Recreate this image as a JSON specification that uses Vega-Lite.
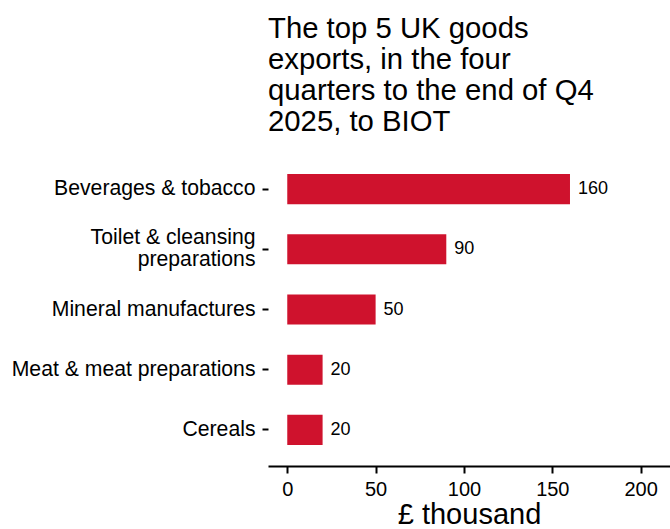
{
  "$schema": "https://vega.github.io/schema/vega-lite/v6.json",
  "autosize": {"type": "none"},
  "width": 402,
  "height": 313,
  "padding": {"left": 268, "top": 153, "right": 0, "bottom": 63},
  "background": "white",
  "config": {"view": {"stroke": null}, "font": "Liberation Sans"},
  "title": {
    "text": ["The top 5 UK goods", "exports, in the four", "quarters to the end of Q4", "2025, to BIOT"],
    "anchor": "start",
    "frame": "group",
    "fontSize": 29.3,
    "fontWeight": "normal",
    "lineHeight": 31,
    "color": "black",
    "font": "Liberation Sans",
    "offset": 16
  },
  "data": {
    "values": [
      {"product": "Beverages & tobacco", "value": 160},
      {"product": "Toilet & cleansing\npreparations", "value": 90},
      {"product": "Mineral manufactures", "value": 50},
      {"product": "Meat & meat preparations", "value": 20},
      {"product": "Cereals", "value": 20}
    ]
  },
  "encoding": {
    "y": {
      "field": "product",
      "type": "nominal",
      "sort": ["Beverages & tobacco", "Toilet & cleansing\npreparations", "Mineral manufactures", "Meat & meat preparations", "Cereals"],
      "scale": {"paddingInner": 0.5, "paddingOuter": 0.35},
      "axis": {
        "title": null,
        "domain": false,
        "ticks": true,
        "tickSize": 6,
        "tickWidth": 2,
        "tickColor": "black",
        "labelPadding": 7,
        "labelFontSize": 21.2,
        "labelColor": "black",
        "labelFont": "Liberation Sans",
        "labelLineHeight": 22,
        "labelLimit": 400,
        "labelOffset": {"condition": {"test": "indexof(datum.value, '\\n') >= 0", "value": -11}, "value": 0},
        "labelExpr": "split(datum.label, '\\n')"
      }
    },
    "x": {
      "field": "value",
      "type": "quantitative",
      "scale": {"domain": [-10.9, 216.6], "nice": false, "zero": false},
      "axis": {
        "title": "£ thousand",
        "values": [0, 50, 100, 150, 200],
        "grid": false,
        "domain": true,
        "domainColor": "black",
        "domainWidth": 2,
        "tickColor": "black",
        "tickWidth": 2,
        "tickSize": 7,
        "labelFontSize": 20,
        "labelColor": "black",
        "labelFont": "Liberation Sans",
        "labelBaseline": "alphabetic",
        "labelPadding": 22,
        "titleFontSize": 29,
        "titleFontWeight": "normal",
        "titleColor": "black",
        "titleFont": "Liberation Sans",
        "titleBaseline": "alphabetic",
        "titleY": 57
      }
    }
  },
  "layer": [
    {
      "mark": {"type": "bar", "color": "#CF122D", "clip": true},
      "encoding": {"x2": {"datum": 0}}
    },
    {
      "mark": {"type": "text", "align": "left", "baseline": "middle", "dx": 8, "fontSize": 18, "font": "Liberation Sans", "color": "black"},
      "encoding": {"text": {"field": "value", "type": "quantitative"}}
    }
  ]
}
